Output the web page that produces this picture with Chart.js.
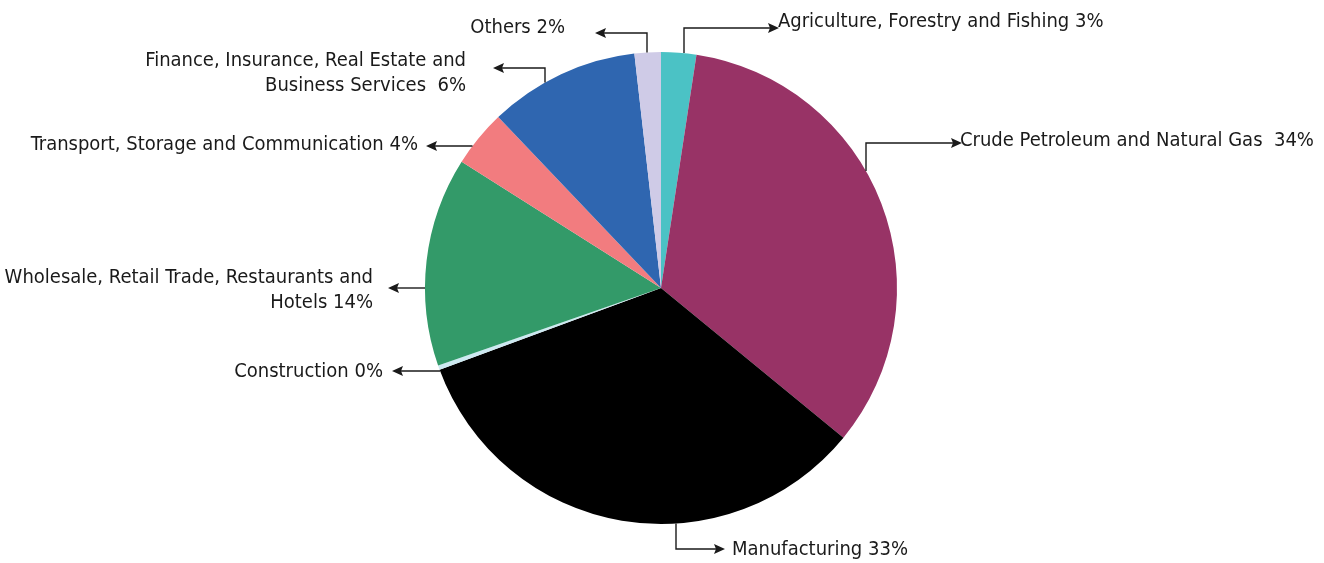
<!DOCTYPE html>
<html>
<head>
<meta charset="utf-8">
<script src="https://cdn.jsdelivr.net/npm/chart.js@4.4.1/dist/chart.umd.min.js"></script>
<style>
    html, body { margin: 0; padding: 0; background: #ffffff; }
    #wrap { width: 1324px; height: 563px; }
</style>
</head>
<body>
<div id="wrap"><canvas id="sectorChart" width="1324" height="563"></canvas></div>
<script>
// sectors, clockwise from 12 o'clock
const sectors = [
    'Agriculture, Forestry and Fishing',
    'Crude Petroleum and Natural Gas',
    'Manufacturing',
    'Construction',
    'Wholesale, Retail Trade, Restaurants and Hotels',
    'Transport, Storage and Communication',
    'Finance, Insurance, Real Estate and Business Services',
    'Others',
];
// slice sizes as drawn in the picture
const shares = [2.4, 33.5, 33.4, 0.3, 14.3, 3.9, 10.3, 1.8];
// label text as printed
const labelLines = [
    ['Agriculture, Forestry and Fishing 3%'],
    ['Crude Petroleum and Natural Gas  34%'],
    ['Manufacturing 33%'],
    ['Construction 0%'],
    ['Wholesale, Retail Trade, Restaurants and', 'Hotels 14%'],
    ['Transport, Storage and Communication 4%'],
    ['Finance, Insurance, Real Estate and', 'Business Services  6%'],
    ['Others 2%'],
];
const sliceColors = ['#4bc2c5', '#983366', '#000000', '#cde9f1', '#339a69', '#f27c7f', '#2f66b0', '#cfcbe7'];

// leader lines: offsets relative to pie centre (px)
// kind 'v': vertical leg at dx, goes to elbow y (ey), then horizontal to ex
// kind 'h': horizontal at dy, from pie edge to ex
const leaders = [
    { kind: 'v', dx: 23, ey: -260, ex: 111, tx: 117, ty: -266, align: 'left' },
    { kind: 'v', dx: 205, ey: -145, ex: 294, tx: 299, ty: -147, align: 'left' },
    { kind: 'v', dx: 15, ey: 261, ex: 57, tx: 71, ty: 262, align: 'left' },
    { kind: 'h', dy: 83, ex: -262, tx: -278, ty: 84, align: 'right' },
    { kind: 'h', dy: 0, ex: -266, tx: -288, ty: -10, align: 'right' },
    { kind: 'h', dy: -142, ex: -228, tx: -243, ty: -143, align: 'right' },
    { kind: 'v', dx: -116, ey: -220, ex: -161, tx: -195, ty: -227, align: 'right' },
    { kind: 'v', dx: -14, ey: -255, ex: -59, tx: -96, ty: -260, align: 'right' },
];

const leaderPlugin = {
    id: 'leaderPlugin',
    afterDraw(chart) {
        const arc = chart.getDatasetMeta(0).data[0];
        const cx = arc.x;
        const cy = arc.y;
        const r = arc.outerRadius;
        const ctx = chart.ctx;
        ctx.save();
        ctx.strokeStyle = '#1a1a1a';
        ctx.fillStyle = '#1a1a1a';
        ctx.lineWidth = 1.4;
        ctx.font = '20px "DejaVu Sans Condensed", "Liberation Sans Narrow", sans-serif';
        ctx.textBaseline = 'middle';

        leaders.forEach((ld, i) => {
            let x0, y0, x1, y1, x2, y2;
            if (ld.kind === 'v') {
                x0 = cx + ld.dx;
                const h = Math.sqrt(Math.max(r * r - ld.dx * ld.dx, 0));
                y0 = ld.ey < 0 ? cy - h : cy + h;
                x1 = x0;
                y1 = cy + ld.ey;
                x2 = cx + ld.ex;
                y2 = y1;
            } else {
                y0 = cy + ld.dy;
                const w = Math.sqrt(Math.max(r * r - ld.dy * ld.dy, 0));
                x0 = ld.ex < 0 ? cx - w : cx + w;
                x1 = x0;
                y1 = y0;
                x2 = cx + ld.ex;
                y2 = y0;
            }
            ctx.beginPath();
            ctx.moveTo(x0, y0);
            ctx.lineTo(x1, y1);
            ctx.lineTo(x2, y2);
            ctx.stroke();

            // arrow head
            const dir = x2 > x1 ? 1 : -1;
            ctx.beginPath();
            ctx.moveTo(x2 + dir * 7, y2);
            ctx.lineTo(x2 - dir * 4, y2 - 5);
            ctx.lineTo(x2 - dir * 2, y2);
            ctx.lineTo(x2 - dir * 4, y2 + 5);
            ctx.closePath();
            ctx.fill();

            ctx.textAlign = ld.align;
            const lines = labelLines[i];
            lines.forEach((line, k) => {
                ctx.fillText(line, cx + ld.tx, cy + ld.ty + k * 25);
            });
        });
        ctx.restore();
    },
};

new Chart(document.getElementById('sectorChart'), {
    type: 'pie',
    data: {
        labels: sectors,
        datasets: [
            {
                data: shares,
                backgroundColor: sliceColors,
                borderWidth: 0,
            },
        ],
    },
    options: {
        responsive: false,
        animation: false,
        layout: {
            padding: { top: 52, bottom: 39, left: 425, right: 427 },
        },
        plugins: {
            legend: { display: false },
            tooltip: { enabled: false },
        },
    },
    plugins: [leaderPlugin],
});
</script>
</body>
</html>
